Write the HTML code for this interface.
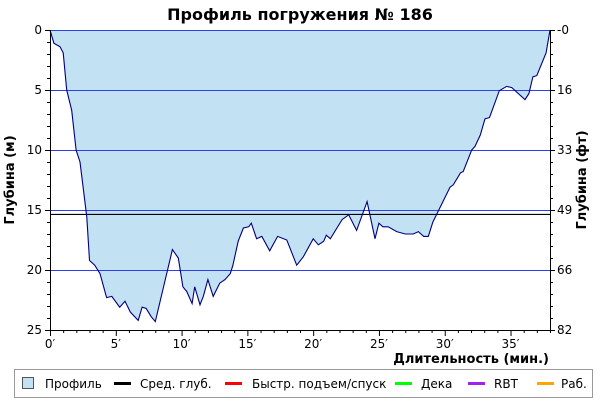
<!DOCTYPE html>
<html><head><meta charset="utf-8"><style>
body{margin:0;background:#fff;width:600px;height:400px;overflow:hidden;font-family:"Liberation Sans","DejaVu Sans",sans-serif}
svg text{font-family:"DejaVu Sans","Liberation Sans",sans-serif}
</style></head><body>
<svg id="chart" width="600" height="400" xmlns="http://www.w3.org/2000/svg">
<text x="300" y="20" text-anchor="middle" font-size="16" font-weight="bold" fill="#000">Профиль погружения № 186</text>
<g id="plot"></g>
<text transform="translate(14,180) rotate(-90)" text-anchor="middle" font-size="13" font-weight="bold">Глубина (м)</text>
<text transform="translate(586,180) rotate(-90)" text-anchor="middle" font-size="13" font-weight="bold">Глубина (фт)</text>
<text x="549" y="363" text-anchor="end" font-size="13" font-weight="bold">Длительность (мин.)</text>
<g font-size="12">
<rect x="14.5" y="369.5" width="578" height="28" fill="#fff" stroke="#999"/>
<rect x="22.5" y="377.5" width="11" height="11" fill="#c2e1f2" stroke="#555"/>
<text x="45" y="388">Профиль</text>
<rect x="114" y="382" width="17" height="3" fill="#000"/>
<text x="140" y="388">Сред. глуб.</text>
<rect x="225" y="382" width="17" height="3" fill="#f00"/>
<text x="252" y="388">Быстр. подъем/спуск</text>
<rect x="395" y="382" width="17" height="3" fill="#0f0"/>
<text x="421" y="388">Дека</text>
<rect x="468" y="382" width="17" height="3" fill="#a020f0"/>
<text x="494" y="388">RBT</text>
<rect x="537" y="382" width="17" height="3" fill="#ffa500"/>
<text x="561" y="388">Раб.</text>
</g>
</svg>
<script>
const times=[0,0.3,0.76,1.0,1.27,1.65,1.98,2.28,2.8,3.0,3.4,3.8,4.3,4.7,5.3,5.7,6.1,6.7,7.0,7.3,7.7,8.0,9.3,9.75,10.1,10.4,10.8,11.0,11.4,11.65,12.0,12.4,12.9,13.3,13.7,13.9,14.3,14.7,15.1,15.3,15.7,16.1,16.7,17.3,18.0,18.75,19.25,20.0,20.4,20.8,21.0,21.3,22.2,22.7,23.3,24.1,24.7,25.0,25.3,25.7,26.35,27.0,27.6,28.0,28.4,28.75,29.1,30.4,30.65,31.2,31.4,32.05,32.3,32.7,33.06,33.4,34.15,34.7,35.1,36.1,36.4,36.7,37.0,37.7,38.0];
const depths=[0,1.1,1.4,1.9,5.0,6.7,10,11,15.6,19.2,19.6,20.3,22.3,22.2,23.1,22.6,23.5,24.2,23.1,23.2,23.9,24.3,18.3,19.0,21.4,21.8,22.8,21.4,22.9,22.2,20.8,22.2,21.1,20.8,20.3,19.6,17.6,16.5,16.4,16.1,17.4,17.2,18.4,17.2,17.5,19.6,18.9,17.4,17.9,17.6,17.1,17.4,15.8,15.4,16.7,14.3,17.4,16.1,16.4,16.4,16.8,17.0,17.0,16.8,17.2,17.2,16.0,13.1,12.9,11.9,11.8,10,9.7,8.75,7.4,7.3,5.06,4.7,4.8,5.8,5.3,3.9,3.8,1.9,0];
const meanDepth=[15.33];
const xTicks=[0,5,10,15,20,25,30,35];
const yTicks=[0,5,10,15,20,25];
const ftTicks=["0","16","33","49","66","82"];
const X0=50,X1=550,Y0=30,Y1=330,TMAX=38,DMAX=25;
const sx=t=>X0+(X1-X0)*t/TMAX, sy=d=>Y0+(Y1-Y0)*d/DMAX;
const NS="http://www.w3.org/2000/svg",g=document.getElementById('plot');
function mk(tag,a,parent){const e=document.createElementNS(NS,tag);for(const k in a)e.setAttribute(k,a[k]);(parent||g).appendChild(e);return e;}
let pts=times.map((t,i)=>sx(t).toFixed(1)+','+sy(depths[i]).toFixed(1)).join(' ');
const area=mk('polygon',{points:pts+' '+sx(times[times.length-1])+','+Y0+' '+sx(0)+','+Y0,fill:'#c2e1f2'});


yTicks.forEach(d=>{if(d>0&&d<DMAX){const l=mk('line',{x1:X0,x2:X1,y1:sy(d)+0.5,y2:sy(d)+0.5,stroke:'#2a3ff0','stroke-width':1});

}});
const topLine=mk('line',{x1:X0,x2:X1,y1:Y0+0.5,y2:Y0+0.5,stroke:'#2a3ff0'});


const ml=mk('line',{x1:X0,x2:X1,y1:sy(meanDepth[0])+0.5,y2:sy(meanDepth[0])+0.5,stroke:'#000','stroke-width':1.2});


const pl=mk('polyline',{points:pts,fill:'none',stroke:'#000080','stroke-width':1.1});


mk('line',{x1:X0+0.5,x2:X0+0.5,y1:Y0,y2:Y1+1,stroke:'#000'});
mk('line',{x1:X1+0.5,x2:X1+0.5,y1:Y0,y2:Y1+1,stroke:'#000'});
mk('line',{x1:X0,x2:X1+1,y1:Y1+0.5,y2:Y1+0.5,stroke:'#000'});
for(let d=0;d<=DMAX;d++){const y=sy(d)+0.5,len=d%5==0?5:3;
mk('line',{x1:X0-len,x2:X0,y1:y,y2:y,stroke:'#000'});mk('line',{x1:X1,x2:X1+len,y1:y,y2:y,stroke:'#000'});}
for(let t=0;t<=TMAX;t++){const x=sx(t)+0.5,len=t%5==0?6:3;mk('line',{x1:x,x2:x,y1:Y1,y2:Y1+len,stroke:'#000'});}
yTicks.forEach((d,i)=>{const a=mk('text',{x:X0-8,y:sy(d)+4,'text-anchor':'end','font-size':12});a.textContent=d;


const b=mk('text',{x:X1+7,y:sy(d)+4,'font-size':12});b.textContent=(i==0?'-':'')+ftTicks[i];

});
xTicks.forEach(t=>{const a=mk('text',{x:sx(t),y:348,'text-anchor':'middle','font-size':12});a.textContent=t+'′';

});
</script>
</body></html>
